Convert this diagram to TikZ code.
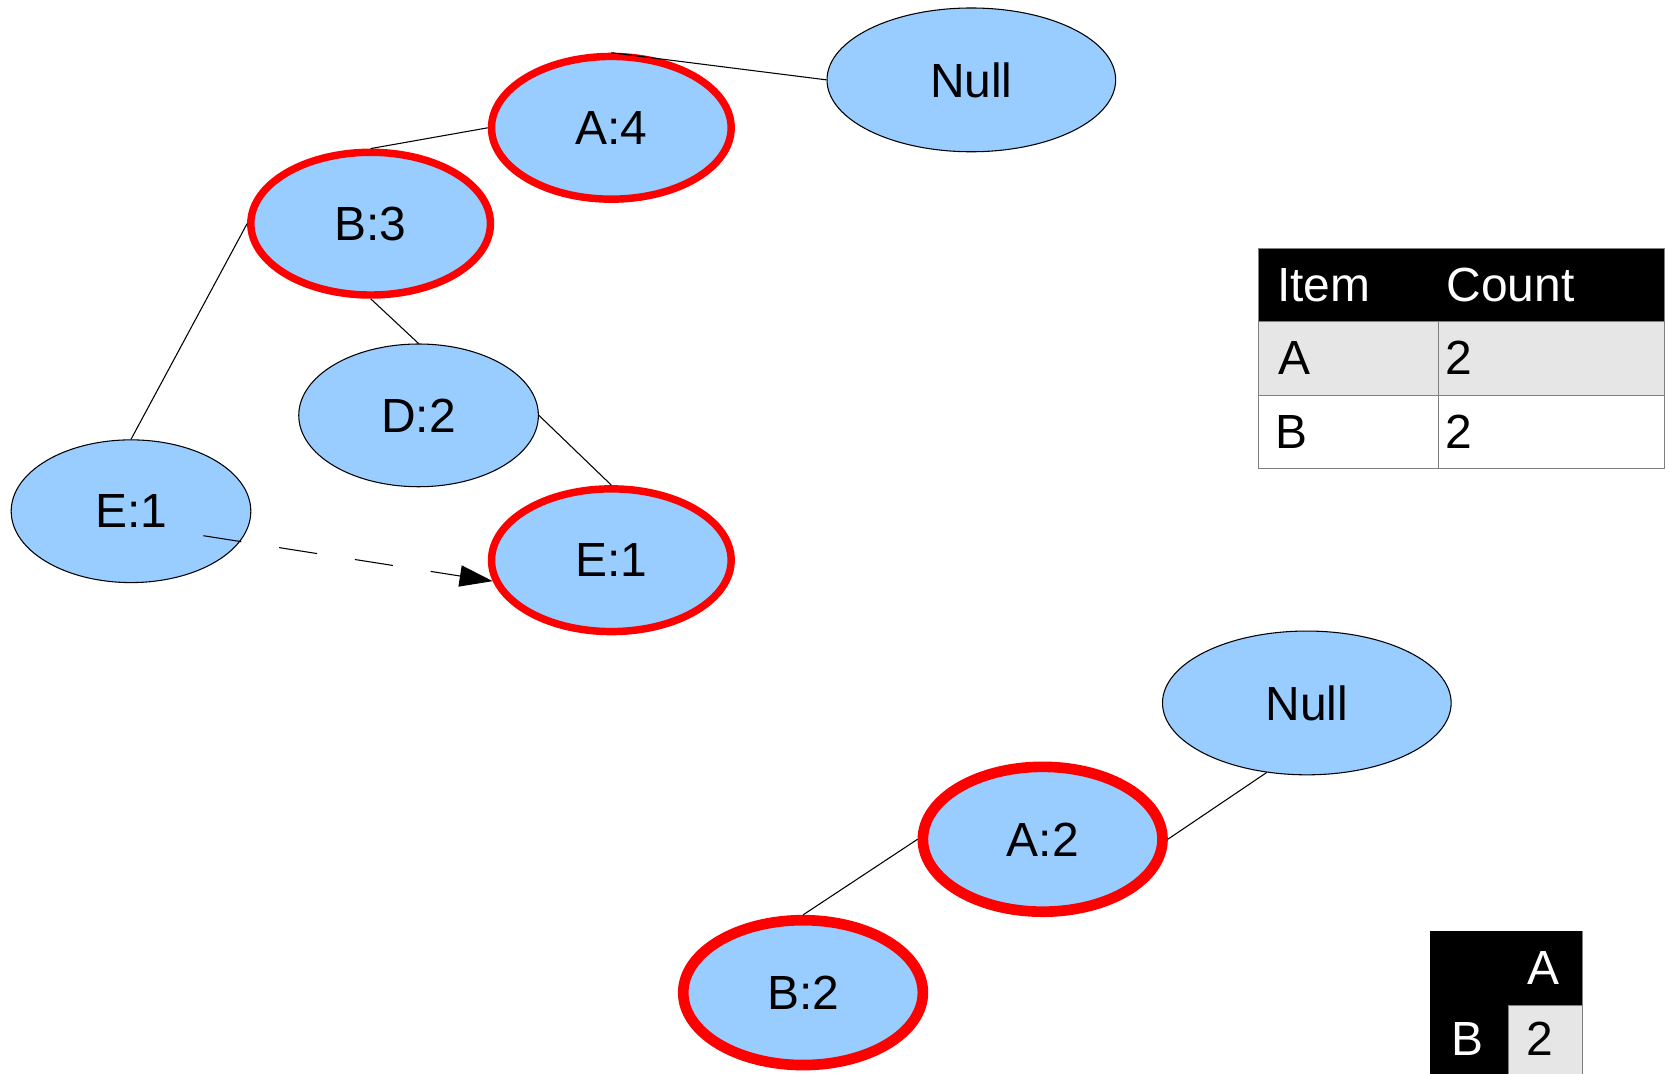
\documentclass[tikz,border=0pt]{standalone}
\usepackage{fontspec}
\setmainfont{Liberation Sans}
\usetikzlibrary{shapes.geometric,arrows.meta}
\definecolor{nodeblue}{RGB}{153,204,255}
\definecolor{cellgray}{RGB}{230,230,230}
\definecolor{rulegray}{RGB}{128,128,128}
\newcommand{\treefont}{\fontsize{45}{54}\selectfont}

\begin{document}
\begin{tikzpicture}[x=1pt,y=-1pt,
  treenode/.style={ellipse, draw=black, line width=1pt, fill=nodeblue,
    inner sep=0pt, minimum width=225pt, minimum height=134pt, font=\treefont},
  wide/.style={minimum width=271pt, minimum height=135pt},
  hot/.style={draw=red, line width=7pt},
  hotter/.style={draw=red, line width=10pt, minimum height=136pt},
  link/.style={draw=black, line width=1pt},
  celltext/.style={inner sep=0pt, anchor=base west, font=\treefont},
  rule/.style={draw=rulegray, line width=1pt},
]
\useasboundingbox (0,0) rectangle (1568,1008);

% ---- upper tree
\node[treenode, wide] (null1) at (912,75)  {Null};
\node[treenode, hot]  (a4)    at (574,120) {A:4};
\node[treenode, hot]  (b3)    at (348,210) {B:3};
\node[treenode]       (d2)    at (393,390) {D:2};
\node[treenode]       (e1l)   at (123,480) {E:1};
\node[treenode, hot]  (e1r)   at (574,526) {E:1};

\draw[link] (null1.west) -- (a4.north);
\draw[link] (a4.west) -- (b3.north);
\draw[link] (b3.west) -- (e1l.north);
\draw[link] (b3.south) -- (d2.north);
\draw[link] (d2.east) -- (e1r.north);

% node-link between the two E:1 nodes
\coordinate (linkstart) at (191,503);
\draw[link, dash pattern=on 36pt off 36pt,
      -{Triangle[length=31pt,width=20pt]}] (linkstart) -- (e1r.190);

% ---- lower (conditional) tree
\node[treenode, wide]   (null2) at (1227,660) {Null};
\node[treenode, hotter] (a2)    at (979,788)  {A:2};
\node[treenode, hotter] (b2)    at (754,932)  {B:2};

\draw[link] (null2.240) -- (a2.east);
\draw[link] (a2.west) -- (b2.north);

% ---- header table
\fill[black] (1182,233) rectangle (1563,302);
\filldraw[fill=cellgray, rule] (1182,302) rectangle (1563,371);
\filldraw[fill=white, rule] (1182,371) rectangle (1563,440);
\draw[rule] (1351,302) -- (1351,440);
\draw[rule] (1182,233) rectangle (1563,440);
\node[celltext, text=white] (hitem)  at (1199,283) {Item};
\node[celltext, text=white] (hcount) at (1358,283) {Count};
\node[celltext] (ra)  at (1200,352) {A};
\node[celltext] (rav) at (1357,352) {2};
\node[celltext] (rb)  at (1197,421) {B};
\node[celltext] (rbv) at (1357,421) {2};

% ---- pair-count matrix
\fill[black] (1343,874) rectangle (1486,1014);
\filldraw[fill=cellgray, rule] (1416,944) rectangle (1486,1014);
\draw[rule] (1486,874) -- (1486,1014);
\node[celltext, text=white] (mca) at (1434,924) {A};
\node[celltext, text=white] (mcb) at (1363,991) {B};
\node[celltext] (mcv) at (1433,991) {2};
\end{tikzpicture}
\end{document}
